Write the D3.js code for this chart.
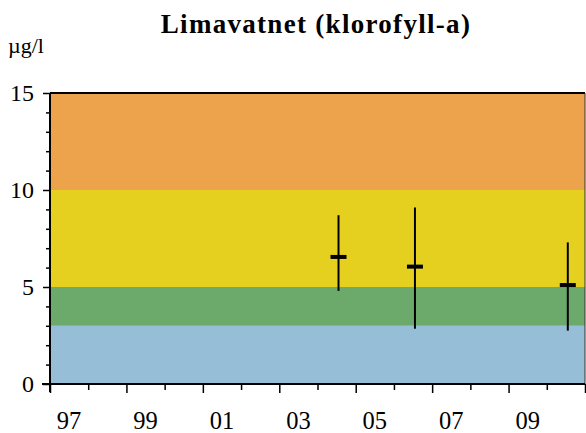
<!DOCTYPE html>
<html><head><meta charset="utf-8">
<script src="https://cdn.jsdelivr.net/npm/d3@7"></script>
<style>body{margin:0;background:#fff}svg{display:block}</style>
</head><body><svg id="c" width="586" height="433"></svg>
<script>
const bandLimits = [[0,3],[3,5],[5,10],[10,15]];
const bandColors = ["#96BED6","#6BAA6B","#E5D020","#EDA24C"];
const years = [2004.55, 2006.55, 2010.55];
const means = [6.55, 6.05, 5.1];
const mins = [4.8, 2.85, 2.75];
const maxs = [8.7, 9.1, 7.3];
const yTicks = [0,5,10,15];
const xLabels = ["97","99","01","03","05","07","09"];

const svg = d3.select("#c");
const m = {l:50, r:585, t:93, b:384};
const x = d3.scaleLinear().domain([1997,2011]).range([m.l,m.r]);
const y = d3.scaleLinear().domain([0,15]).range([m.b,m.t]);
const font = "Liberation Serif, Times New Roman, serif";

svg.selectAll("rect.band").data(bandLimits).join("rect")
  .attr("x",x(1997)).attr("width",x(2011)-x(1997))
  .attr("y",d=>y(d[1])).attr("height",d=>y(d[0])-y(d[1]))
  .attr("fill",(d,i)=>bandColors[i]);

// frame
svg.append("line").attr("x1",m.l).attr("x2",m.r).attr("y1",m.t).attr("y2",m.t).attr("stroke","#000").attr("stroke-width",2);
svg.append("line").attr("x1",m.r).attr("x2",m.r).attr("y1",m.t).attr("y2",m.b).attr("stroke","#333").attr("stroke-width",1);

// y axis
const ya = svg.append("g").attr("transform",`translate(${m.l},0)`);
ya.call(d3.axisLeft(y).tickValues(d3.range(0,16)).tickSize(4).tickFormat(""));
ya.selectAll(".tick line").filter(d=>d%5===0).attr("x2",-7);
ya.select(".domain").remove();
ya.append("line").attr("y1",m.t).attr("y2",m.b+8).attr("stroke","#000").attr("stroke-width",2);
ya.selectAll(".tick line").attr("stroke","#000").attr("stroke-width",1.5);
svg.selectAll("text.yl").data(yTicks).join("text")
  .attr("x",34).attr("y",d=>y(d)+8).attr("text-anchor","end")
  .attr("font-family",font).attr("font-size",24).text(d=>d);

// x axis
const xa = svg.append("g").attr("transform",`translate(0,${m.b})`);
xa.call(d3.axisBottom(x).tickValues(d3.range(1997,2012)).tickSize(6).tickFormat(""));
xa.selectAll(".tick line").filter(d=>d%2===1).attr("y2",9);
xa.select(".domain").remove();
xa.selectAll(".tick line").attr("stroke","#000").attr("stroke-width",1.5);
xa.append("line").attr("x1",m.l-8).attr("x2",m.r).attr("stroke","#000").attr("stroke-width",2);
svg.selectAll("text.xl").data(xLabels).join("text")
  .attr("x",(d,i)=>x(1997.5+2*i)).attr("y",429).attr("text-anchor","middle")
  .attr("font-family",font).attr("font-size",24.5).text(d=>d);

// error bars
const g = svg.append("g");
years.forEach((yr,i)=>{
  g.append("line").attr("x1",x(yr)).attr("x2",x(yr)).attr("y1",y(maxs[i])).attr("y2",y(mins[i]))
    .attr("stroke","#000").attr("stroke-width",2);
  g.append("line").attr("x1",x(yr)-8).attr("x2",x(yr)+8).attr("y1",y(means[i])).attr("y2",y(means[i]))
    .attr("stroke","#000").attr("stroke-width",4);
});

svg.append("text").attr("x",316).attr("y",33).attr("text-anchor","middle")
  .attr("font-family",font).attr("font-weight","bold").attr("font-size",27)
  .attr("letter-spacing",1.3).text("Limavatnet (klorofyll-a)");
svg.append("text").attr("x",8).attr("y",53).attr("font-family",font).attr("font-size",22).text("µg/l");
</script></body></html>
